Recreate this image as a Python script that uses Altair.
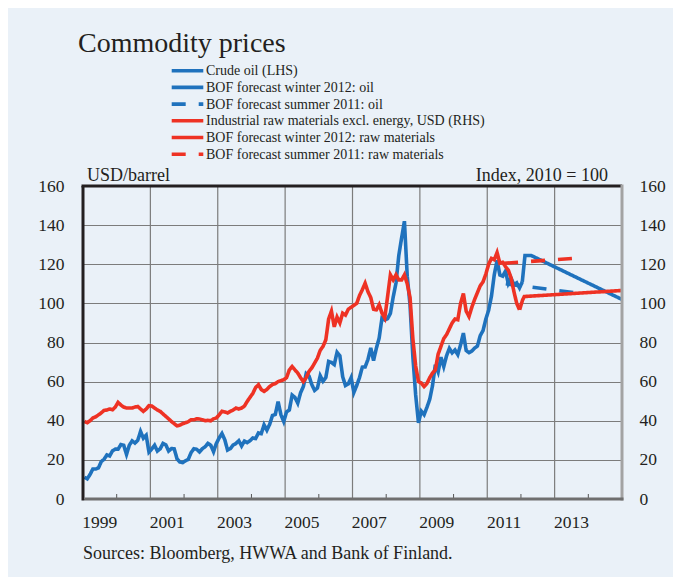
import altair as alt
import pandas as pd

# ---------------- data ----------------
series_names = [
    "Crude oil (LHS)",
    "BOF forecast winter 2012: oil",
    "BOF forecast summer 2011: oil",
    "Industrial raw materials excl. energy, USD (RHS)",
    "BOF forecast winter 2012: raw materials",
    "BOF forecast summer 2011: raw materials",
]
series_colors = ["#1f72bd", "#1f72bd", "#1f72bd", "#ee3224", "#ee3224", "#ee3224"]
series_dashes = [[1, 0], [1, 0], [14, 13], [1, 0], [1, 0], [14, 13]]
dashed_series = [False, False, True, False, False, True]

# monthly, starting January 1999
oil_values = [
    11.1, 10.3, 12.5, 15.3, 15.3, 15.9, 19.1, 20.3, 22.5, 22.0, 24.6, 25.5,
    25.5, 27.8, 27.5, 22.8, 27.5, 29.7, 28.6, 30.0, 34.5, 31.1, 32.6, 24.0,
    25.6, 27.5, 24.5, 25.7, 28.4, 27.7, 24.5, 25.8, 25.6, 20.5, 18.9, 18.6,
    19.5, 20.3, 23.7, 25.7, 25.4, 24.1, 25.7, 26.7, 28.4, 27.5, 24.2, 28.4,
    31.2, 33.5, 30.3, 25.0, 25.8, 27.6, 28.4, 29.8, 27.1, 29.6, 28.8, 29.8,
    31.2, 30.9, 33.8, 33.4, 37.9, 35.2, 38.2, 42.7, 43.2, 49.8, 43.1, 39.6,
    44.5, 45.5, 53.1, 51.9, 49.0, 54.3, 57.5, 64.1, 62.9, 58.5, 55.5, 56.7,
    63.0, 60.2, 62.1, 70.3, 69.8, 68.7, 75.0, 73.2, 62.5, 58.0, 58.8, 62.0,
    54.5, 58.0, 62.1, 67.4, 67.5, 71.3, 77.2, 70.8, 77.1, 82.3, 92.5, 91.5,
    92.2, 94.9, 103.3, 110.4, 124.6, 133.5, 142.0, 113.9, 99.1, 72.8, 53.2, 39.0,
    44.9, 43.1, 46.8, 50.9, 57.9, 68.6, 64.9, 72.5, 67.7, 73.2, 77.0, 74.7,
    76.2, 73.8, 78.8, 84.8, 75.9, 74.8, 75.6, 77.1, 78.2, 83.5, 86.1, 92.0,
    96.5, 103.7, 114.6, 122.0, 114.5, 113.9, 116.5, 110.1, 112.8, 109.6, 110.5, 107.9,
    111.0,
]
raw_values = [
    39.6, 39.0, 40.0, 41.4, 42.0, 43.0, 44.0, 45.3, 45.5, 46.0, 45.6, 47.0,
    49.4, 48.0, 47.0, 46.5, 46.5, 46.5, 47.0, 47.3, 46.0, 44.8, 46.0, 47.7,
    47.5, 46.5, 45.5, 44.8, 43.5, 42.2, 41.0, 39.6, 38.5, 37.4, 37.8, 38.5,
    39.0, 39.5, 40.5, 40.5, 41.0, 40.9, 40.5, 40.0, 40.2, 40.0, 41.0, 41.4,
    43.0, 44.8, 44.5, 44.0, 44.8, 45.5, 46.5, 46.0, 46.5, 47.5, 49.9, 52.0,
    54.0, 57.0, 58.4, 56.0, 55.0, 56.0, 57.5, 58.5, 59.0, 60.0, 60.5, 61.0,
    62.0, 66.0, 67.7, 66.0, 64.4, 62.0, 60.0, 62.0, 65.2, 67.0, 69.5, 72.0,
    76.0, 78.0, 81.4, 92.0, 96.0, 88.0, 93.0, 90.0, 95.0, 94.0, 97.0, 98.0,
    99.0, 100.0, 104.0, 107.0, 110.3, 106.0, 103.0, 97.0, 96.7, 99.3, 95.0, 92.5,
    103.5, 114.6, 112.0, 114.6, 112.0, 112.0, 114.6, 110.0, 103.0, 82.0, 68.0, 60.0,
    59.3, 57.5, 59.0, 62.0, 64.4, 66.0, 74.0, 78.0, 82.0, 84.0, 87.0, 90.0,
    92.0, 91.6, 100.0, 105.0, 96.0, 93.3, 98.0, 102.0, 105.5, 109.0, 111.0, 115.0,
    120.0, 123.0, 122.3, 126.0, 120.5, 121.0, 118.8, 117.0, 113.0, 106.0, 100.0, 96.7,
]
oil_winter2012_years = [2012.04, 2012.12, 2012.30, 2015.0]
oil_winter2012_values = [111.0, 124.5, 124.5, 102.0]
oil_summer2011_years = [2011.55, 2013.58]
oil_summer2011_values = [110.0, 105.5]
raw_winter2012_years = [2011.96, 2012.05, 2012.10, 2015.0]
raw_winter2012_values = [96.7, 101.8, 103.5, 106.6]
raw_summer2011_years = [2011.50, 2013.58]
raw_summer2011_values = [120.5, 123.0]

grid_years = [2001, 2003, 2005, 2007, 2009, 2011, 2013]
minor_tick_years = [2000, 2002, 2004, 2006, 2008, 2010, 2012, 2014]
label_years = [1999, 2001, 2003, 2005, 2007, 2009, 2011, 2013]
y_ticks = [0, 20, 40, 60, 80, 100, 120, 140, 160]

title_text = "Commodity prices"
left_unit = "USD/barrel"
right_unit = "Index, 2010 = 100"
source_text = "Sources: Bloomberg, HWWA and Bank of Finland."

# ---------------- build tables ----------------
def monthly_years(n):
    return [1999 + (i + 0.5) / 12 for i in range(n)]

rows = []
for yr, v in zip(monthly_years(len(oil_values)), oil_values):
    rows.append({"series": series_names[0], "year": yr, "value": v, "grp": "oil"})
for yr, v in zip(oil_winter2012_years, oil_winter2012_values):
    rows.append({"series": series_names[1], "year": yr, "value": v, "grp": "oil"})
for yr, v in zip(oil_summer2011_years, oil_summer2011_values):
    rows.append({"series": series_names[2], "year": yr, "value": v, "grp": "oil"})
for yr, v in zip(monthly_years(len(raw_values)), raw_values):
    rows.append({"series": series_names[3], "year": yr, "value": v, "grp": "raw"})
for yr, v in zip(raw_winter2012_years, raw_winter2012_values):
    rows.append({"series": series_names[4], "year": yr, "value": v, "grp": "raw"})
for yr, v in zip(raw_summer2011_years, raw_summer2011_values):
    rows.append({"series": series_names[5], "year": yr, "value": v, "grp": "raw"})
df = pd.DataFrame(rows)

W, H = 539, 313
FONT = "Liberation Serif"
TXT = "#231f20"
GRID = "#7c7c7c"
LW = 3.6

xscale = alt.Scale(domain=[1999, 2015], nice=False, zero=False)
yscale = alt.Scale(domain=[0, 160], nice=False, zero=True)
cscale = alt.Scale(domain=series_names, range=series_colors)
dscale = alt.Scale(domain=series_names, range=series_dashes)

y_axis_left = alt.Axis(
    values=y_ticks, grid=True, gridColor=GRID, gridWidth=1.2, ticks=False, domain=False,
    labelPadding=19, labelFontSize=17.5, labelFont=FONT, labelColor=TXT, title=None,
    labelOverlap=False,
)
y_axis_right = alt.Axis(
    values=y_ticks, orient="right", grid=False, ticks=False, domain=False,
    labelPadding=17, labelFontSize=17.5, labelFont=FONT, labelColor=TXT, title=None,
    labelOverlap=False,
)

# vertical grid lines
vgrid = alt.Chart(pd.DataFrame({"yr": grid_years})).mark_rule(
    color=GRID, strokeWidth=1.2
).encode(
    x=alt.X("yr:Q", scale=xscale, axis=None),
    y=alt.value(0), y2=alt.value(H),
)

oil_lines = alt.Chart(df[df.grp == "oil"]).mark_line(strokeWidth=LW).encode(
    x=alt.X("year:Q", scale=xscale, axis=None),
    y=alt.Y("value:Q", scale=yscale, axis=y_axis_left),
    color=alt.Color("series:N", scale=cscale, legend=None),
    strokeDash=alt.StrokeDash("series:N", scale=dscale, legend=None),
    order="year:Q",
)
raw_lines = alt.Chart(df[df.grp == "raw"]).mark_line(strokeWidth=LW).encode(
    x=alt.X("year:Q", scale=xscale, axis=None),
    y=alt.Y("value:Q", scale=yscale, axis=y_axis_right),
    color=alt.Color("series:N", scale=cscale, legend=None),
    strokeDash=alt.StrokeDash("series:N", scale=dscale, legend=None),
    order="year:Q",
)

minor_ticks = alt.Chart(pd.DataFrame({"yr": minor_tick_years})).mark_rule(
    color="#555555", strokeWidth=1
).encode(
    x=alt.X("yr:Q", scale=xscale, axis=None),
    y=alt.value(H - 5), y2=alt.value(H),
)

# year labels, centred in each labelled year
xlabels = alt.Chart(pd.DataFrame({"yr": label_years})).transform_calculate(
    mid="datum.yr + 0.5", lab="'' + datum.yr"
).mark_text(
    align="center", baseline="alphabetic", font=FONT, fontSize=17.5, color=TXT
).encode(
    x=alt.X("mid:Q", scale=xscale, axis=None),
    y=alt.value(H + 29),
    text="lab:N",
)

# frame
frame_top = alt.Chart().mark_rule(color="#231f20", strokeWidth=3).encode(
    x=alt.value(-1.5), x2=alt.value(W), y=alt.value(0))
frame_left = alt.Chart().mark_rule(color="#231f20", strokeWidth=3).encode(
    x=alt.value(0), y=alt.value(0), y2=alt.value(H + 1.5))
frame_right = alt.Chart().mark_rule(color="#a3a3a3", strokeWidth=3).encode(
    x=alt.value(W), y=alt.value(-1.5), y2=alt.value(H + 1.5))
frame_bottom = alt.Chart().mark_rule(color="#6f6f6f", strokeWidth=3).encode(
    x=alt.value(1.5), x2=alt.value(W + 1.5), y=alt.value(H))

# manual legend
leg = pd.DataFrame({
    "series": series_names,
    "i": list(range(len(series_names))),
    "dashed": dashed_series,
})
leg_base = alt.Chart(leg).transform_calculate(ly="-115.3 + 16.7 * datum.i")
leg_sym = leg_base.mark_rule(strokeWidth=LW).encode(
    x=alt.value(88.7), x2=alt.value(120.3),
    y=alt.Y("ly:Q", scale=None, axis=None),
    color=alt.Color("series:N", scale=cscale, legend=None),
    strokeDash=alt.StrokeDash("series:N", scale=dscale, legend=None),
)
leg_txt = leg_base.mark_text(
    align="left", baseline="middle", font=FONT, fontSize=14, color=TXT, dy=0.5
).encode(
    x=alt.value(123),
    y=alt.Y("ly:Q", scale=None, axis=None),
    text="series:N",
)

def label(txt, x, y, size, align="left"):
    return alt.Chart(pd.DataFrame({"t": [txt]})).mark_text(
        align=align, baseline="alphabetic", font=FONT, fontSize=size, color=TXT
    ).encode(x=alt.value(x), y=alt.value(y), text="t:N")

title = label(title_text, -5, -134.5, 28)
lunit = label(left_unit, 4, -5, 18)
runit = label(right_unit, 525, -5, 18, align="right")
src = label(source_text, 0, 373, 18)

chart = alt.layer(
    vgrid, oil_lines, raw_lines, minor_ticks, xlabels,
    frame_top, frame_left, frame_right, frame_bottom,
    leg_sym, leg_txt, title, lunit, runit, src,
).resolve_axis(y="independent").properties(
    width=W, height=H,
    autosize=alt.AutoSizeParams(type="none"),
    padding={"left": 75, "top": 178, "right": 51, "bottom": 78},
    background="#eaf1f8",
).configure_view(stroke=None)

chart.save("out.html", embed_options={"renderer": "svg", "actions": False})
